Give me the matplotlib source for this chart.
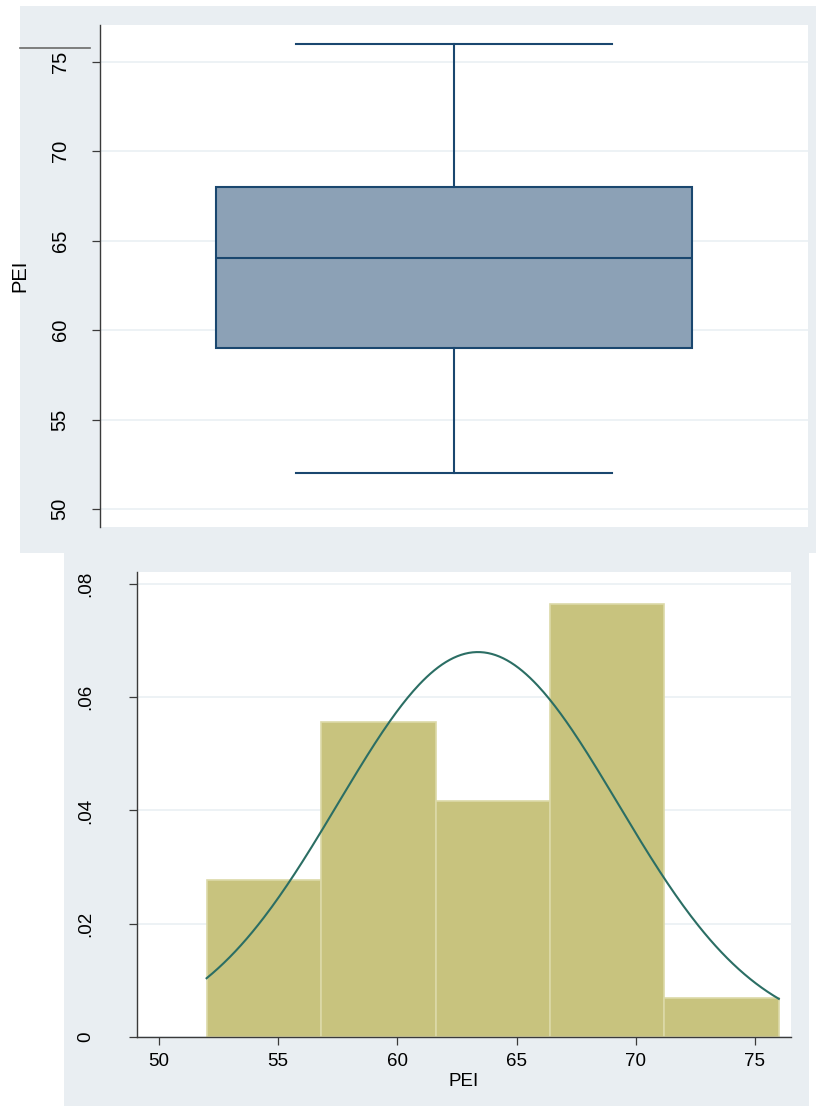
import numpy as np
import matplotlib
matplotlib.use("Agg")
import matplotlib.pyplot as plt
from matplotlib.patches import Rectangle
from matplotlib.lines import Line2D

plt.rcParams['font.family'] = ['Liberation Sans', 'DejaVu Sans']

# PEI 箱ひげ図の要約統計量
pei_min = 52
pei_q1 = 59
pei_med = 64
pei_q3 = 68
pei_max = 76

# ヒストグラム（度数）と階級境界
bin_edges = [52.0, 56.8, 61.6, 66.4, 71.2, 76.0]
bin_counts = [4, 8, 6, 11, 1]

# 正規分布の当てはめ
pei_mean = 63.38
pei_sd = 5.87

top_ticks = [50, 55, 60, 65, 70, 75]
hist_xticks = [50, 55, 60, 65, 70, 75]
hist_yticks = [0, 0.02, 0.04, 0.06, 0.08]
hist_ylabels = ['0', '.02', '.04', '.06', '.08']

bg = '#e9eef2'
grid_c = '#eaf0f3'
navy = '#1a476f'
box_fill = '#8ca1b6'
khaki = '#c8c37e'
khaki_edge = '#dcd9a8'
curve_c = '#2b6e64'
axis_c = '#3a3a3a'

W, H = 816, 1106
fig = plt.figure(figsize=(W / 100, H / 100), dpi=100)
fig.patch.set_facecolor('white')


def fr(x0, y0, x1, y1):
    """ピクセル座標から figure 座標の矩形へ"""
    return (x0 / W, 1 - y1 / H, (x1 - x0) / W, (y1 - y0) / H)


# 背景パネル
for x0, y0, x1, y1 in [(20, 6, 816, 553), (64, 553, 809, 1106)]:
    l, b, w, h = fr(x0, y0, x1, y1)
    fig.add_artist(Rectangle((l, b), w, h, transform=fig.transFigure,
                             facecolor=bg, edgecolor='none', zorder=0))
fig.add_artist(Line2D([20 / W, 90 / W], [1 - 48 / H, 1 - 48 / H],
                      transform=fig.transFigure, color='#6a6a6a', lw=1.2))


def style_axes(ax):
    for s in ['top', 'right']:
        ax.spines[s].set_visible(False)
    ax.spines['left'].set_color(axis_c)
    ax.spines['bottom'].set_color(axis_c)
    ax.spines['left'].set_linewidth(1.0)
    ax.spines['bottom'].set_linewidth(1.0)
    ax.tick_params(length=5.8, width=0.9, color=axis_c)
    ax.yaxis.grid(True, color=grid_c, lw=1.2)
    ax.set_axisbelow(True)


# ---- 箱ひげ図 ----
ax1 = fig.add_axes(fr(100, 25, 808, 527))
style_axes(ax1)
ax1.spines['bottom'].set_visible(False)
stats = [dict(med=pei_med, q1=pei_q1, q3=pei_q3,
              whislo=pei_min, whishi=pei_max, fliers=[])]
ax1.bxp(stats, positions=[1], widths=[1.345], capwidths=[0.895],
        patch_artist=True, showfliers=False,
        boxprops=dict(facecolor=box_fill, edgecolor=navy, lw=1.5),
        medianprops=dict(color=navy, lw=1.5),
        whiskerprops=dict(color=navy, lw=1.5),
        capprops=dict(color=navy, lw=1.5))
ax1.set_xlim(0, 2)
ax1.set_ylim(49, 77.04)
ax1.set_xticks([])
ax1.set_yticks(top_ticks)
ax1.set_yticklabels([str(t) for t in top_ticks], rotation=90, va='center',
                    fontsize=14.5)
ax1.tick_params(axis='y', pad=16)
ax1.set_ylabel('PEI', fontsize=14.5)
ax1.yaxis.set_label_coords(-71 / 708, 0.5)

# ---- ヒストグラム＋正規曲線 ----
ax2 = fig.add_axes(fr(137, 572, 791, 1037))
style_axes(ax2)
widths = np.diff(bin_edges)
n_total = sum(bin_counts)
density = np.array(bin_counts) / (n_total * widths)
ax2.bar(bin_edges[:-1], density, width=widths, align='edge',
        color=khaki, edgecolor=khaki_edge, lw=1.2, zorder=2)
xs = np.linspace(bin_edges[0], bin_edges[-1], 300)
pdf = np.exp(-0.5 * ((xs - pei_mean) / pei_sd) ** 2) / (pei_sd * np.sqrt(2 * np.pi))
ax2.plot(xs, pdf, color=curve_c, lw=1.5, zorder=3)
ax2.set_xlim(49.08, 76.51)
ax2.set_ylim(0, 0.0821)
ax2.set_xticks(hist_xticks)
ax2.set_xticklabels([str(t) for t in hist_xticks], fontsize=13.5)
ax2.set_yticks(hist_yticks)
ax2.set_yticklabels(hist_ylabels, rotation=90, va='center', fontsize=13.5)
ax2.tick_params(axis='y', pad=25)
ax2.tick_params(axis='x', pad=6)
ax2.set_xlabel('PEI', fontsize=13.5, labelpad=2)

fig.savefig('out.png', dpi=100, facecolor='white')
